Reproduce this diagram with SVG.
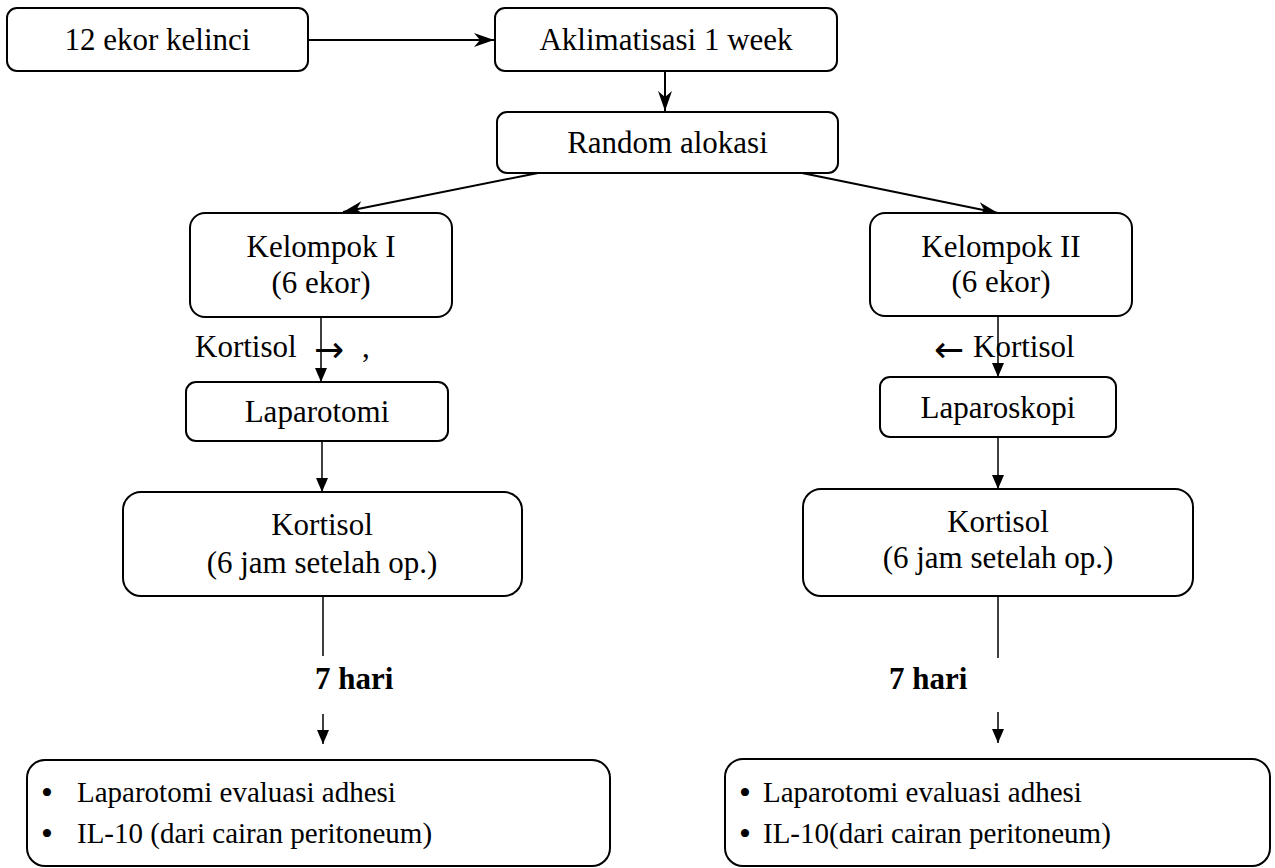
<svg xmlns="http://www.w3.org/2000/svg" width="1275" height="868" viewBox="0 0 1275 868">
<style>
.box{fill:#fff;stroke:#000;stroke-width:2}
text{font-family:'Liberation Serif','DejaVu Serif',serif}
.t{font-size:31px;fill:#000;text-anchor:middle}
.tl{font-size:29px;fill:#000}
.k{font-size:31px;fill:#000}
.b{font-size:31px;font-weight:bold;fill:#000}
.bul{font-size:34px;fill:#000;text-anchor:middle}
.sym{font-family:'DejaVu Sans',sans-serif;font-size:36px;fill:#000}
.c{fill:none;stroke:#000;stroke-width:2}
.c1{fill:none;stroke:#000;stroke-width:1.5}
</style>
<defs>
<marker id="st" markerUnits="userSpaceOnUse" markerWidth="22" markerHeight="16" refX="20" refY="7" orient="auto">
<path d="M0,0 L20,7 L0,14 L6,7 z" fill="#000"/>
</marker>
<marker id="tri" markerUnits="userSpaceOnUse" markerWidth="14" markerHeight="12" refX="14" refY="6" orient="auto">
<path d="M0,0 L14,6 L0,12 z" fill="#000"/>
</marker>
</defs>
<g id="connectors">
<line class="c" x1="308" y1="40" x2="494" y2="40" marker-end="url(#st)"/>
<line class="c" x1="665" y1="71" x2="665" y2="111" marker-end="url(#st)"/>
<line class="c" x1="538" y1="173" x2="343" y2="212" marker-end="url(#st)"/>
<line class="c" x1="802" y1="173" x2="998" y2="213" marker-end="url(#st)"/>
<line class="c1" x1="321" y1="317" x2="321" y2="382" marker-end="url(#tri)"/>
<line class="c1" x1="998" y1="316" x2="998" y2="377" marker-end="url(#tri)"/>
<line class="c1" x1="322" y1="441" x2="322" y2="492" marker-end="url(#tri)"/>
<line class="c1" x1="998" y1="437" x2="998" y2="489" marker-end="url(#tri)"/>
<line class="c1" x1="323" y1="596" x2="323" y2="656"/>
<line class="c1" x1="323" y1="714" x2="323" y2="744" marker-end="url(#tri)"/>
<line class="c1" x1="998" y1="596" x2="998" y2="658"/>
<line class="c1" x1="998" y1="712" x2="998" y2="743" marker-end="url(#tri)"/>
</g>
<g id="n1"><rect class="box" x="7" y="8" width="301" height="63" rx="10"/><text class="t" x="157.5" y="50">12 ekor kelinci</text></g>
<g id="n2"><rect class="box" x="495" y="8" width="342" height="63" rx="10"/><text class="t" x="666" y="50">Aklimatisasi 1 week</text></g>
<g id="n3"><rect class="box" x="497" y="112" width="341" height="61" rx="10"/><text class="t" x="667.5" y="153">Random alokasi</text></g>
<g id="n4"><rect class="box" x="190" y="213" width="262" height="104" rx="15"/><text class="t" x="321" y="257">Kelompok I</text><text class="t" x="321" y="293">(6 ekor)</text></g>
<g id="n5"><rect class="box" x="870" y="213" width="262" height="103" rx="15"/><text class="t" x="1001" y="257">Kelompok II</text><text class="t" x="1001" y="292">(6 ekor)</text></g>
<g id="lbl-left"><text class="k" x="195" y="357">Kortisol</text><text class="sym" x="314" y="362">→</text><text class="k" x="362" y="357">,</text></g>
<g id="lbl-right"><text class="sym" x="934" y="362">←</text><text class="k" x="973" y="357">Kortisol</text></g>
<g id="n6"><rect class="box" x="186" y="382" width="262" height="59" rx="10"/><text class="t" x="317" y="422">Laparotomi</text></g>
<g id="n7"><rect class="box" x="880" y="377" width="236" height="60" rx="10"/><text class="t" x="998" y="418">Laparoskopi</text></g>
<g id="n8"><rect class="box" x="123" y="492" width="399" height="104" rx="18"/><text class="t" x="322" y="535">Kortisol</text><text class="t" x="322" y="573">(6 jam setelah op.)</text></g>
<g id="n9"><rect class="box" x="803" y="489" width="390" height="107" rx="18"/><text class="t" x="998" y="532">Kortisol</text><text class="t" x="998" y="568">(6 jam setelah op.)</text></g>
<g id="lbl-7a"><text class="b" x="315" y="689">7 hari</text></g>
<g id="lbl-7b"><text class="b" x="889" y="689">7 hari</text></g>
<g id="n10"><rect class="box" x="27" y="760" width="583" height="106" rx="18"/>
<text class="bul" x="47" y="804">•</text><text class="tl" x="77" y="802">Laparotomi evaluasi adhesi</text>
<text class="bul" x="47" y="845">•</text><text class="tl" x="77" y="843">IL-10 (dari cairan peritoneum)</text></g>
<g id="n11"><rect class="box" x="725" y="759" width="545" height="107" rx="18"/>
<text class="bul" x="745" y="804">•</text><text class="tl" x="763" y="802">Laparotomi evaluasi adhesi</text>
<text class="bul" x="745" y="845">•</text><text class="tl" x="763" y="843">IL-10(dari cairan peritoneum)</text></g>
</svg>
